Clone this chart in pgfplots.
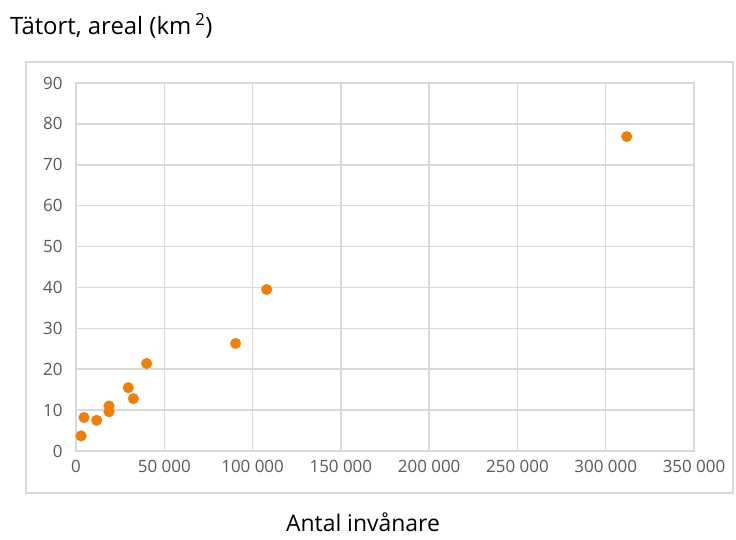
\documentclass[border=0pt]{standalone}
\usepackage{pgfplots}
\pgfplotsset{compat=1.18}
\usepackage{fontspec}
\setmainfont{Open Sans}
\definecolor{gridc}{HTML}{D9D9D9}
\definecolor{tickc}{HTML}{595959}
\definecolor{dotc}{HTML}{F07F09}
\begin{document}
\begin{tikzpicture}[x=1bp,y=1bp]
\useasboundingbox (0,0) rectangle (736,540);
\draw[gridc, line width=1.5bp] (26,47) rectangle (733,478);
\begin{axis}[
  at={(76bp,89bp)}, anchor=south west,
  scale only axis, width=618bp, height=368bp,
  xmin=0, xmax=350000, ymin=0, ymax=90,
  xtick={0,50000,...,350000}, ytick={0,10,...,90},
  grid=major, major grid style={gridc, line width=1.5bp},
  axis line style={gridc, line width=1.5bp},
  major tick length=0pt,
  tick label style={font=\fontsize{17}{20}\selectfont, text=tickc},
  /pgf/number format/assume math mode=true,
  /pgf/number format/1000 sep={\ },
  /pgf/number format/fixed,
  scaled x ticks=false,
  xticklabel style={yshift=-6bp},
  yticklabel style={xshift=-10bp},
  clip=false,
]
\addplot[only marks, color=dotc, mark=*, mark size=5.4bp, mark options={fill=dotc, draw=dotc, line width=0.2bp}] coordinates {
 (2900,3.7) (4500,8.2) (11700,7.5) (18700,9.6) (18700,11.0)
 (29600,15.5) (32500,12.8) (40000,21.4) (90400,26.3) (108000,39.5) (311900,76.9)
};
\end{axis}
\node[anchor=base west, font=\fontsize{24}{28}\selectfont, inner sep=0] at (10,505) {Tätort, areal (km\,\textsuperscript{2})};
\node[anchor=base, font=\fontsize{23}{27}\selectfont, inner sep=0] at (363,8) {Antal invånare};
\end{tikzpicture}
\end{document}
